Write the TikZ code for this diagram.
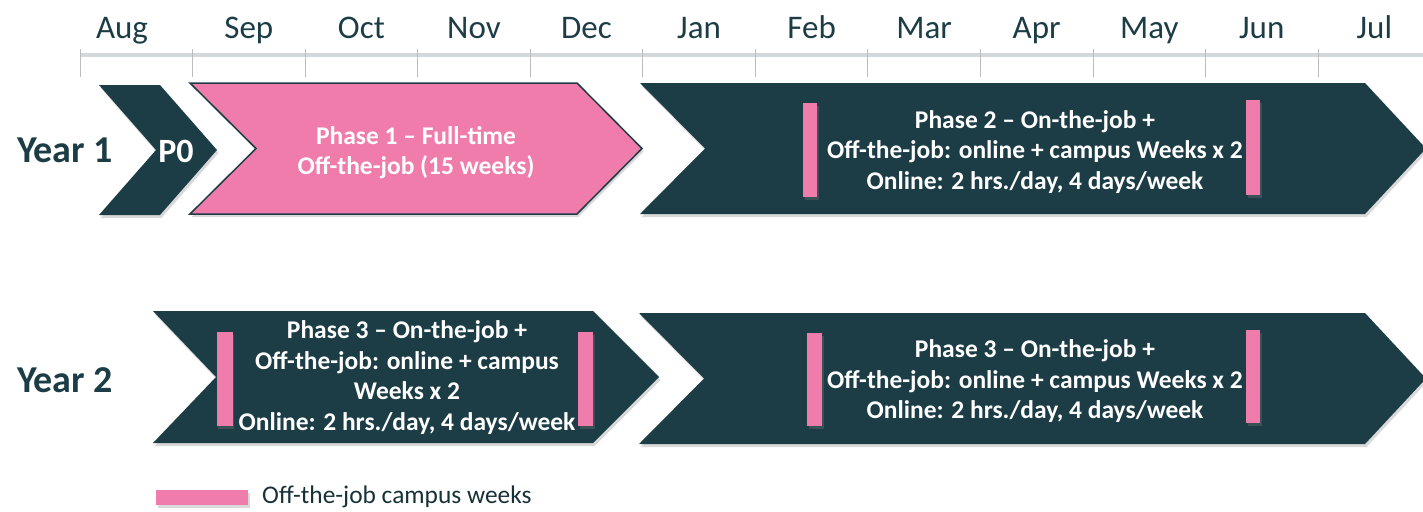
\documentclass[tikz,border=0pt]{standalone}
\usepackage{fontspec}
\setmainfont{Carlito}
\usetikzlibrary{shadows}
\definecolor{darkteal}{HTML}{1C3D46}
\definecolor{phasepink}{HTML}{F07CAB}
\definecolor{axisgray}{HTML}{D3D8DC}
\begin{document}
\begin{tikzpicture}[x=1pt, y=-1pt,
    shade/.style={drop shadow={shadow xshift=1.5pt, shadow yshift=-3pt, opacity=0.3}},
    chev/.style={fill=darkteal, shade},
    campus/.style={fill=phasepink, shade},
    month/.style={anchor=base, text=darkteal, inner sep=0, font=\fontsize{33}{38}\selectfont},
    year/.style={text=darkteal, inner sep=0, font=\bfseries\fontsize{38}{44}\selectfont},
    phase/.style={text=white, align=center, inner sep=0, font=\bfseries\fontsize{25.5}{30.5}\selectfont}]{
            \useasboundingbox (0,0) rectangle (1423,511);
            % time axis
            \draw[axisgray, line width=4pt] (80,55) -- (1423,55);
            \foreach \i in {0,...,11}
                \draw[axisgray!70!gray, line width=0.8pt] (80+112.55*\i,49) -- (80+112.55*\i,77);
            \node [month] (m0) at (122,38) {Aug};
            \foreach \m [count=\i] in {Sep,Oct,Nov,Dec,Jan,Feb,Mar,Apr,May,Jun,Jul}
                \node [month] (m\i) at (136.3+112.55*\i,38) {\m};
            % year 1
            \node [year] (y1) at (65,150) {Year 1};
            \path [chev] (99,85) -- (160,85) -- (217,150) -- (160,215) -- (99,215) -- (156,150) -- cycle;
            \path [campus, draw=darkteal, line width=1.5pt] (190,83) -- (577,83) -- (642,148.5) -- (577,214) -- (190,214) -- (256,148.5) -- cycle;
            \path [chev] (640,83) -- (1365,83) -- (1426,148.5) -- (1365,214) -- (640,214) -- (705,148.5) -- cycle;
            \path [campus] (803,103) rectangle (817,197);
            \path [campus] (1246,100) rectangle (1260,195);
            \node [phase, font=\bfseries\fontsize{34}{40}\selectfont] (p0) at (176,151) {P0};
            \node [phase] (ph1) at (416,152.5) {Phase 1 – Full-time \\ Off-the-job (15 weeks)};
            \node [phase] (ph2) at (1035,152) {Phase 2 – On-the-job + \\ Off-the-job: online + campus Weeks x 2 \\ Online: 2 hrs./day, 4 days/week};
            % year 2
            \node [year] (y2) at (65,380) {Year 2};
            \path [chev] (153,311) -- (593,311) -- (659,377) -- (593,443) -- (153,443) -- (216,377) -- cycle;
            \path [chev] (639,313) -- (1365,313) -- (1426,378.5) -- (1365,444) -- (639,444) -- (704,378.5) -- cycle;
            \path [campus] (216.5,332) rectangle (232.5,426);
            \path [campus] (578,332) rectangle (593,426);
            \path [campus] (807,333) rectangle (822,426);
            \path [campus] (1246,330) rectangle (1260,423);
            \node [phase] (ph3a) at (407,377.5) {Phase 3 – On-the-job + \\ Off-the-job: online + campus \\ Weeks x 2 \\ Online: 2 hrs./day, 4 days/week};
            \node [phase] (ph3b) at (1035,381.5) {Phase 3 – On-the-job + \\ Off-the-job: online + campus Weeks x 2 \\ Online: 2 hrs./day, 4 days/week};
            % legend
            \path [campus] (156,490) rectangle (248,505);
            \node [anchor=west, inner sep=0, text=darkteal!80!black, font=\fontsize{25.4}{30}\selectfont] (leg) at (262,497) {Off-the-job campus weeks};
        }
\end{tikzpicture}
\end{document}
